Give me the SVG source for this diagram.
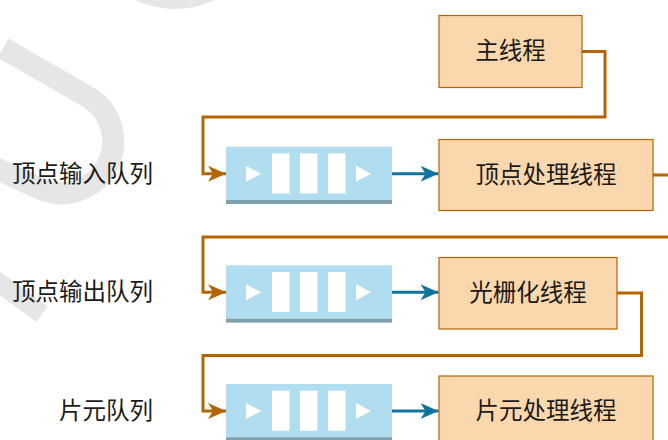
<svg xmlns="http://www.w3.org/2000/svg" width="668" height="440" viewBox="0 0 668 440">
  <style>
    .wm { fill: none; stroke: #e6e6e6; stroke-width: 22; }
    .box { fill: #fad7ac; stroke: #b46504; stroke-width: 1.2; }
    .qbody { fill: #b1ddf0; }
    .qstrip { fill: #7e9ea9; }
    .qbar { fill: #ffffff; }
    .txt { font-family: "Noto Sans CJK SC", "Noto Sans", sans-serif; font-size: 23.5px; fill: #1a1a1a; dominant-baseline: central; }
    .org { fill: none; stroke: #b46504; stroke-width: 3; }
    .blu { fill: none; stroke: #10739e; stroke-width: 3; }
  </style>
  <defs>
    <marker id="ao" markerUnits="userSpaceOnUse" markerWidth="20" markerHeight="20" viewBox="0 0 20 20" refX="18" refY="10" orient="auto">
      <path d="M0,2 L18,10 L0,18 L5,10 Z" fill="#b46504"/>
    </marker>
    <marker id="ab" markerUnits="userSpaceOnUse" markerWidth="20" markerHeight="20" viewBox="0 0 20 20" refX="18" refY="10" orient="auto">
      <path d="M0,2 L18,10 L0,18 L5,10 Z" fill="#10739e"/>
    </marker>
    <g id="queue">
      <rect class="qbody" x="0" y="0" width="166" height="53.3"/>
      <rect class="qstrip" x="0" y="53.3" width="166" height="4"/>
      <polygon class="qbar" points="20,19 20,35 35.3,27"/>
      <rect class="qbar" x="46" y="6.7" width="17.5" height="40"/>
      <rect class="qbar" x="74" y="6.7" width="17.5" height="40"/>
      <rect class="qbar" x="102" y="6.7" width="17.5" height="40"/>
      <polygon class="qbar" points="130,19 130,35 145,27"/>
    </g>
  </defs>

  <g id="watermark">
    <circle class="wm" cx="175" cy="-84" r="82"/>
    <path class="wm" d="M3,48 L90,98 A52 52 0 0 1 43,190 L-20,161"/>
    <path class="wm" style="stroke-width:19" d="M-20,269 L42,314"/>
  </g>

  <g id="connectors">
    <path class="org" d="M582,51.5 L605,51.5 L605,117 L203,117 L203,173.7 L226,173.7" marker-end="url(#ao)"/>
    <path class="org" d="M653,175 L680,175 L680,237 L203,237 L203,292.3 L226,292.3" marker-end="url(#ao)"/>
    <path class="org" d="M617,293 L641.5,293 L641.5,355.5 L203,355.5 L203,411 L226,411" marker-end="url(#ao)"/>
    <path class="blu" d="M392,173.7 L438.5,173.7" marker-end="url(#ab)"/>
    <path class="blu" d="M392,292.3 L438.5,292.3" marker-end="url(#ab)"/>
    <path class="blu" d="M392,411 L438.5,411" marker-end="url(#ab)"/>
  </g>

  <g id="label-input">
    <text class="txt" x="153" y="171.5" text-anchor="end">顶点输入队列</text>
  </g>
  <g id="label-output">
    <text class="txt" x="153" y="290" text-anchor="end">顶点输出队列</text>
  </g>
  <g id="label-fragment">
    <text class="txt" x="153" y="408.5" text-anchor="end">片元队列</text>
  </g>

  <g id="queue1"><use href="#queue" x="226" y="146.7"/></g>
  <g id="queue2"><use href="#queue" x="226" y="265.3"/></g>
  <g id="queue3"><use href="#queue" x="226" y="384"/></g>

  <g id="main-thread">
    <rect class="box" x="439" y="15.5" width="143" height="72"/>
    <text class="txt" x="510.5" y="49" text-anchor="middle">主线程</text>
  </g>
  <g id="vertex-thread">
    <rect class="box" x="439" y="139.5" width="214" height="71"/>
    <text class="txt" x="546" y="172.5" text-anchor="middle">顶点处理线程</text>
  </g>
  <g id="raster-thread">
    <rect class="box" x="439" y="257.5" width="178" height="71.5"/>
    <text class="txt" x="528" y="290.8" text-anchor="middle">光栅化线程</text>
  </g>
  <g id="fragment-thread">
    <rect class="box" x="439" y="376" width="214" height="72"/>
    <text class="txt" x="546" y="409" text-anchor="middle">片元处理线程</text>
  </g>
</svg>
